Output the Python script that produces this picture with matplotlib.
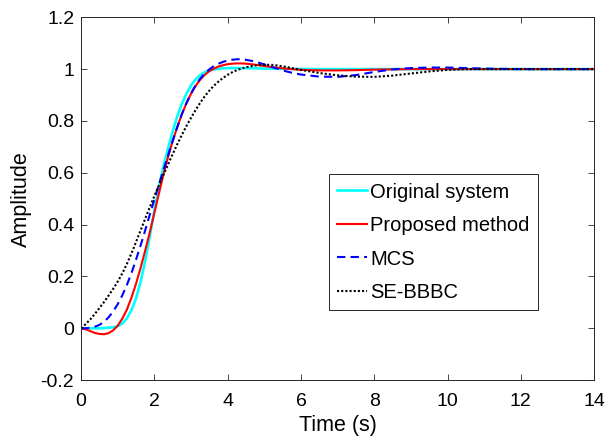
import numpy as np
import matplotlib
matplotlib.use("Agg")
from matplotlib import pyplot as plt

# sample times (s): fine steps during the rise, coarser on the tail
t = np.concatenate([np.arange(0, 4.5001, 0.125),
                    np.arange(4.75, 6.0001, 0.25),
                    np.arange(6.5, 14.0001, 0.5)])

# step responses
original = [0, 0, 0, 0, 0, 0.001, 0.002, 0.004, 0.008, 0.018, 0.038, 0.07,
            0.115, 0.18, 0.26, 0.355, 0.455, 0.545, 0.625, 0.695, 0.76, 0.818,
            0.866, 0.905, 0.937, 0.96, 0.977, 0.988, 0.995, 0.999, 1.001, 1.003,
            1.004, 1.004, 1.004, 1.004, 1.004,
            1.003, 1.002, 1.002, 1.001, 1.001, 1.0,
            1.0, 1.0, 1.0, 1.0, 1.0, 1.0, 1.0, 1.0, 1.0, 1.0, 1.0, 1.0, 1.0,
            1.0, 1.0, 1.0]

proposed = [0, -0.004, -0.011, -0.018, -0.022, -0.023, -0.019, -0.008, 0.01,
            0.037, 0.072, 0.118, 0.172, 0.233, 0.3, 0.37, 0.445, 0.52, 0.595,
            0.662, 0.722, 0.777, 0.826, 0.868, 0.905, 0.935, 0.959, 0.978,
            0.992, 1.002, 1.01, 1.015, 1.019, 1.021, 1.022, 1.022, 1.021,
            1.017, 1.012, 1.007, 1.003, 1.0, 0.997,
            0.995, 0.995, 0.996, 0.998, 0.999, 1.0, 1.0, 1.0, 1.0, 1.0, 1.0,
            1.0, 1.0, 1.0, 1.0, 1.0]

mcs = [0, 0.0, 0.002, 0.006, 0.013, 0.025, 0.042, 0.065, 0.093, 0.127, 0.167,
       0.213, 0.265, 0.32, 0.378, 0.438, 0.497, 0.555, 0.612, 0.668, 0.723,
       0.776, 0.826, 0.869, 0.906, 0.938, 0.963, 0.983, 0.999, 1.012, 1.021,
       1.028, 1.033, 1.036, 1.038, 1.038, 1.036,
       1.029, 1.018, 1.006, 0.995, 0.986, 0.979,
       0.971, 0.970, 0.977, 0.989, 0.999, 1.004, 1.006, 1.006, 1.004, 1.002,
       1.001, 1.0, 1.0, 1.0, 1.0, 1.0]

sebbbc = [0, 0.016, 0.034, 0.055, 0.078, 0.101, 0.126, 0.152, 0.18, 0.212,
          0.248, 0.289, 0.333, 0.378, 0.423, 0.467, 0.51, 0.552, 0.593, 0.633,
          0.672, 0.71, 0.746, 0.78, 0.812, 0.842, 0.87, 0.895, 0.917, 0.936,
          0.952, 0.966, 0.978, 0.988, 0.996, 1.002, 1.007,
          1.014, 1.017, 1.016, 1.011, 1.004, 0.997,
          0.985, 0.976, 0.971, 0.970, 0.975, 0.983, 0.991, 0.997, 1.0, 1.0,
          1.0, 1.0, 1.0, 1.0, 1.0, 1.0]

xticks = [0, 2, 4, 6, 8, 10, 12, 14]
yticks = [-0.2, 0, 0.2, 0.4, 0.6, 0.8, 1.0, 1.2]
ytick_labels = ["-0.2", "0", "0.2", "0.4", "0.6", "0.8", "1", "1.2"]

plt.rcParams['font.family'] = ['Liberation Sans', 'DejaVu Sans']

fig = plt.figure(figsize=(6.05, 4.43), dpi=100)
ax = fig.add_axes([0.134, 0.142, 0.848, 0.819])

ax.plot(t, original, color='cyan', lw=1.9, label='Original system')
ax.plot(t, proposed, color='red', lw=1.5, label='Proposed method')
ax.plot(t, mcs, color='blue', lw=1.5, linestyle=(0, (4, 2.5)), label='MCS')
ax.plot(t, sebbbc, color='black', lw=1.5, linestyle=(0, (1, 1)), label='SE-BBBC')

ax.set_xlim(0, 14)
ax.set_ylim(-0.2, 1.2)
ax.set_xticks(xticks)
ax.set_yticks(yticks)
ax.set_yticklabels(ytick_labels)
ax.tick_params(direction='in', top=True, right=True, length=4, width=0.6,
               labelsize=14, color='0.15')
ax.tick_params(axis='x', pad=9)
ax.tick_params(axis='y', pad=5)
for sp in ax.spines.values():
    sp.set_linewidth(0.7)
    sp.set_color('0.15')

ax.set_xlabel('Time (s)', fontsize=15.5, labelpad=4)
ax.set_ylabel('Amplitude', fontsize=15.5, labelpad=6)

leg = ax.legend(loc='lower left', bbox_to_anchor=(0.4834, 0.193),
                borderaxespad=0, fontsize=14.5, handlelength=1.5,
                handletextpad=0.15, labelspacing=0.72, borderpad=0.4,
                fancybox=False, framealpha=1, edgecolor='0.15')
leg.get_frame().set_linewidth(0.7)

plt.savefig("out.png", dpi=100)
